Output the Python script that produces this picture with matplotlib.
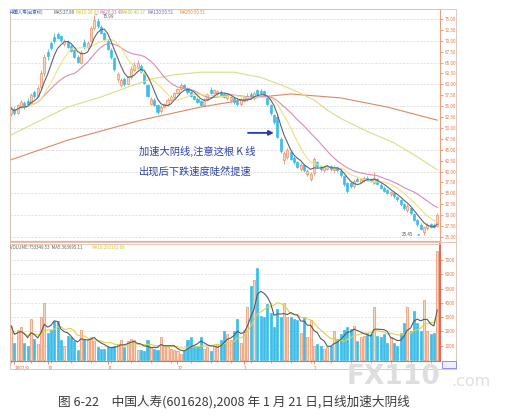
import numpy as np
import pandas as pd
import matplotlib
matplotlib.use('Agg')
import matplotlib.pyplot as plt
from matplotlib.patches import Rectangle
from matplotlib.lines import Line2D

plt.rcParams['font.family'] = ['Noto Sans CJK SC', 'DejaVu Sans']

# ---------------- data ----------------
opens = [53.2,54.3,53.5,55.0,55.8,56.3,55.8,58.2,57.4,59.4,
         62.5,67.5,69.5,70.8,71.5,71.0,69.2,69.8,68.8,67.8,
         66.3,65.0,69.8,68.6,70.0,73.0,74.6,73.2,71.8,70.0,
         68.0,66.0,61.2,59.8,61.2,60.2,61.6,63.4,63.8,64.2,
         62.6,59.8,55.6,56.4,55.2,53.8,54.8,55.3,56.4,57.2,
         58.0,58.9,59.8,59.1,58.2,57.3,56.7,56.2,55.3,56.5,
         58.6,58.0,57.9,58.3,57.8,56.8,56.5,56.8,56.4,55.4,
         56.2,56.6,57.8,56.8,58.6,58.5,58.4,57.0,55.2,53.0,
         52.5,47.5,42.6,43.3,44.6,43.2,42.2,40.6,41.4,39.4,
         38.4,39.6,42.2,41.3,40.3,40.6,41.2,40.3,41.0,40.2,
         39.0,37.4,37.4,36.6,38.4,37.6,38.0,38.6,38.3,37.4,
         38.3,37.0,36.3,35.7,34.8,35.0,34.2,33.4,32.5,31.2,
         31.6,30.2,28.8,27.8,26.2,27.0,27.9,27.8,27.6]
highs = [55.0,54.8,55.6,56.5,56.2,56.8,58.0,58.8,59.8,63.2,
         67.0,68.2,70.0,71.9,72.0,71.4,70.5,70.2,69.2,68.1,
         66.8,67.8,70.5,70.0,73.5,75.99,75.2,73.6,72.1,70.3,
         68.4,66.3,62.9,61.5,61.6,62.0,64.2,65.2,65.5,64.6,
         62.9,60.2,57.2,56.8,55.5,55.2,55.8,56.8,57.6,58.3,
         59.2,60.3,60.2,59.4,58.5,57.6,57.0,56.5,56.8,58.0,
         59.3,59.0,58.8,58.6,58.2,58.0,57.4,57.2,56.8,56.8,
         57.3,58.0,58.3,58.5,59.0,58.9,58.7,57.3,55.5,53.3,
         52.8,47.9,44.8,45.5,45.0,43.6,42.5,41.9,41.7,40.6,
         39.8,43.4,42.5,41.6,41.4,41.5,41.5,41.6,41.3,40.5,
         39.3,37.7,37.8,38.2,38.8,38.6,38.9,38.9,38.6,40.0,
         38.6,37.3,36.6,36.0,35.6,35.3,34.5,33.7,32.8,32.6,
         31.9,30.5,29.1,28.1,27.6,28.2,28.2,28.1,30.4]
lows = [52.8,53.0,53.2,54.6,54.4,55.2,55.5,56.9,57.0,59.0,
        62.0,65.6,67.8,69.5,70.3,69.8,68.8,68.3,67.4,66.0,
        64.8,64.7,68.2,68.2,69.8,72.5,73.0,71.5,70.0,67.8,
        65.8,63.0,60.5,59.5,59.6,59.9,61.2,63.0,63.4,62.5,
        60.0,57.0,55.3,55.0,53.2,53.4,54.5,55.0,56.1,56.9,
        57.7,58.6,58.9,57.9,57.0,56.4,55.7,55.0,55.0,56.2,
        57.8,57.7,57.5,57.2,56.9,56.5,56.0,55.6,55.0,55.1,
        55.9,56.3,56.6,56.4,57.4,57.6,57.2,55.0,53.0,51.0,
        47.6,44.2,41.8,43.0,42.7,41.8,40.8,40.2,40.0,39.0,
        37.8,39.3,40.8,40.2,40.0,40.3,40.2,40.0,39.9,38.8,
        36.8,35.2,36.2,36.3,37.5,37.3,37.7,37.8,37.5,37.1,
        36.9,36.0,35.3,34.9,34.5,34.0,33.3,32.2,31.3,30.8,
        30.2,28.6,27.6,26.6,25.45,26.7,27.1,27.0,27.4]
closes = [54.5,53.4,55.2,56.0,54.8,55.6,57.5,57.3,59.2,62.5,
          66.2,66.4,68.3,69.9,70.6,70.1,70.0,68.6,67.7,66.3,
          65.2,67.4,68.6,69.6,73.0,74.8,73.4,71.9,70.3,68.2,
          66.2,63.5,62.4,61.0,60.0,61.6,63.6,64.4,64.8,62.9,
          60.4,57.4,56.6,55.3,53.7,54.9,55.4,56.4,57.2,58.0,
          58.9,59.8,59.2,58.2,57.3,56.7,56.0,55.3,56.5,57.7,
          58.1,58.7,58.4,57.5,57.2,57.7,57.0,55.9,55.4,56.4,
          57.0,57.4,56.9,58.0,57.8,58.0,57.5,55.4,53.4,51.4,
          48.0,44.8,44.2,44.9,43.0,42.1,41.1,41.5,40.3,40.2,
          39.5,42.8,41.2,40.5,41.0,41.2,40.5,41.1,40.3,39.2,
          37.2,35.6,36.6,37.8,37.9,38.3,38.6,38.0,37.8,38.5,
          37.2,36.3,35.6,35.1,35.3,34.3,33.6,32.5,31.6,32.1,
          30.5,28.9,27.9,26.9,27.2,27.8,27.4,27.3,30.0]
volumes = [2400,1200,2100,2300,1200,1000,2900,1500,1100,3000,
           4000,1900,2100,2700,2700,1400,1000,1700,1600,1300,
           700,2100,1500,1400,1600,1300,900,800,800,900,
           900,1000,1100,1400,900,1300,1500,1400,700,700,
           600,1400,900,800,700,1600,1000,900,800,700,
           600,400,700,1400,1600,1000,1000,1600,800,900,
           600,1000,1100,1400,2000,1800,1400,2000,2900,1200,
           2100,3700,5200,5600,6400,3100,3000,3900,3300,2300,
           3600,3000,4000,3000,3000,2900,2800,1900,3000,1600,
           2800,1000,1100,1000,800,900,1000,2000,1500,1800,
           2100,2300,2200,2400,1300,1600,1700,1900,1800,3700,
           1700,1600,1800,1200,1600,1200,1000,1900,2600,3700,
           2000,3400,2600,2000,4200,2000,1800,1900,7600]

# long moving averages (bar index, value)
ma60_idx = [0, 9, 17, 27, 37, 42, 49, 57, 67, 75, 81, 86, 91, 95, 99, 107, 115, 122, 128]
ma60_val = [48.4, 51.8, 54.8, 57.1, 59.9, 61.2, 62.2, 62.8, 62.8, 61.6, 59.9, 58.3, 56.4, 54.1, 52.2, 49.2, 46.6, 43.4, 40.4]
ma120_idx = [0, 17, 39, 57, 75, 84, 99, 113, 122, 128]
ma120_val = [42.7, 47.2, 51.8, 54.8, 57.1, 57.8, 56.9, 54.8, 53.0, 51.8]

date_idx = [1, 11, 29, 50, 70, 91]
date_lbl = ['2007/9', '10', '11', '12', '1', '2']

price_ticks = [25.0, 27.5, 30.0, 32.5, 35.0, 37.5, 40.0, 42.5, 45.0, 47.5, 50.0,
               52.5, 55.0, 57.5, 60.0, 62.5, 65.0, 67.5, 70.0, 72.5, 75.0]
price_grid = [25, 30, 35, 40, 45, 50, 55, 60, 65, 70, 75]
vol_ticks = [1000, 2000, 3000, 4000, 5000, 6000, 7000]

legend_main = [('中国人寿(前复权)', '#3a55c0'), ('MA5:27.89', '#555a66'), ('MA10:28.63', '#d8c418'),
               ('MA20:33.49', '#d068b0'), ('MA60:40.17', '#b8c040'), ('MA120:50.51', '#6a62c0'),
               ('MA250:50.51', '#e08a30')]
legend_vol = [('VOLUME:753349.53  MA5:363695.11', '#606060'), ('MA10:293163.08', '#d8c418')]

note1 = '加速大阴线,注意这根 K 线'
note2 = '出现后下跌速度陡然提速'
caption = '图 6-22　中国人寿(601628),2008 年 1 月 21 日,日线加速大阴线'

# ---------------- figure ----------------
W, H = 520, 420
fig = plt.figure(figsize=(W / 100, H / 100), dpi=100)
fig.patch.set_facecolor('white')

def fx(px):
    return px / W

def fy(py):
    return 1 - py / H

ax = fig.add_axes([fx(10), fy(241), 430 / W, 232 / H])
axv = fig.add_axes([fx(10), fy(361), 430 / W, 117 / H])

o = np.array(opens); hh = np.array(highs); ll = np.array(lows); c = np.array(closes)
v = np.array(volumes)
idx = np.arange(len(c))
up = c >= o

UP_FILL = '#fbd6bf'
UP_EDGE = '#e8916a'
DN = '#3cbde9'

edge_cols = np.where(up, UP_EDGE, DN)
fill_cols = np.where(up, UP_FILL, DN)

# grid
for g in price_grid:
    ax.axhline(g, color='#d4d4d4', lw=0.5, ls=(0, (3, 2)), zorder=0)

# candles
ax.vlines(idx, ll, hh, colors=edge_cols, lw=0.6, zorder=2)
body_bot = np.minimum(o, c)
body_h = np.maximum(np.abs(c - o), 0.15)
ax.bar(idx, body_h, 0.62, bottom=body_bot, color=fill_cols, edgecolor=edge_cols,
       linewidth=0.5, zorder=3)

# moving averages
s = pd.Series(c)
ma5 = s.rolling(5, min_periods=1).mean()
ma10 = s.rolling(10, min_periods=1).mean()
ma20 = s.rolling(20, min_periods=1).mean()
ax.plot(ma120_idx, ma120_val, color='#dc8866', lw=0.8, zorder=4)
ax.plot(ma60_idx, ma60_val, color='#d8de86', lw=0.8, zorder=4)
ax.plot(idx, ma20, color='#d88cbc', lw=0.8, zorder=4)
ax.plot(idx, ma10, color='#eee27a', lw=0.8, zorder=4)
ax.plot(idx, ma5, color='#5e6672', lw=0.8, zorder=5)

ax.set_xlim(-0.3, 128.83)
ax.set_ylim(24.08, 77.29)
ax.yaxis.tick_right()
ax.set_yticks(price_ticks)
ax.set_yticklabels(['%.2f' % t for t in price_ticks])
ax.tick_params(axis='y', labelsize=3.3, colors='#e07a4a', length=2, width=0.5, pad=1.5)
ax.set_xticks([])
for sp in ['left', 'top']:
    ax.spines[sp].set_color('#d9c2b4')
    ax.spines[sp].set_linewidth(0.6)
ax.spines['right'].set_color('#e8a080')
ax.spines['right'].set_linewidth(0.8)
ax.spines['bottom'].set_color('#e2b0a0')
ax.spines['bottom'].set_linewidth(0.9)

# peak / trough labels
ipk = int(np.argmax(hh))
ax.annotate('%.2f' % hh[ipk], xy=(ipk + 0.3, hh[ipk]), xytext=(ipk + 2.6, hh[ipk] - 0.4),
            fontsize=3.3, color='#555555', va='center', ha='left',
            arrowprops=dict(arrowstyle='-', color='#5c6abf', lw=0.4))
ilo = int(np.argmin(ll))
ax.annotate('%.2f' % ll[ilo], xy=(ilo - 0.3, ll[ilo]), xytext=(ilo - 3.3, ll[ilo] + 0.1),
            fontsize=3.3, color='#555555', va='center', ha='right',
            arrowprops=dict(arrowstyle='->', color='#5c6abf', lw=0.4, mutation_scale=3))

# annotation text and arrow
ax.text(0.300, 0.384, note1, transform=ax.transAxes, fontsize=7.4, color='#2f43a6',
        ha='left', va='center')
ax.text(0.300, 0.302, note2, transform=ax.transAxes, fontsize=7.4, color='#2f43a6',
        ha='left', va='center')
ax.annotate('', xy=(0.620, 0.466), xytext=(0.547, 0.466), xycoords='axes fraction',
            textcoords='axes fraction',
            arrowprops=dict(arrowstyle='-|>', color='#2438b8', lw=1.3, mutation_scale=7))

# ---------------- volume panel ----------------
for g in vol_ticks:
    axv.axhline(g, color='#d8d8d8', lw=0.5, ls=(0, (3, 2)), zorder=0)
vcols = np.where(up, UP_FILL, DN)
vedges = np.where(up, UP_EDGE, DN)
axv.bar(idx, v, 0.62, color=vcols, edgecolor=vedges, linewidth=0.5, zorder=2)
vs = pd.Series(v.astype(float))
axv.plot(idx, vs.rolling(10, min_periods=1).mean(), color='#e6d040', lw=0.8, zorder=3)
axv.plot(idx, vs.rolling(5, min_periods=1).mean(), color='#545c66', lw=0.8, zorder=4)

axv.set_xlim(-0.3, 128.83)
axv.set_ylim(-70, 8112)
axv.yaxis.tick_right()
axv.set_yticks(vol_ticks)
axv.set_yticklabels([str(t) for t in vol_ticks])
axv.tick_params(axis='y', labelsize=3.3, colors='#e07a4a', length=2, width=0.5, pad=1.5)
axv.set_xticks(date_idx)
axv.set_xticklabels(date_lbl)
axv.set_xticks(np.arange(0, 129, 6), minor=True)
axv.tick_params(axis='x', which='major', labelsize=3.3, colors='#d0603a', length=2.5,
                width=0.5, pad=0.8)
axv.tick_params(axis='x', which='minor', length=1.5, width=0.4, color='#d0603a')
for lab in axv.get_xticklabels():
    lab.set_horizontalalignment('left')
for sp in ['left', 'top']:
    axv.spines[sp].set_color('#d9c2b4')
    axv.spines[sp].set_linewidth(0.6)
axv.spines['bottom'].set_color('#e07050')
axv.spines['bottom'].set_linewidth(0.8)
axv.spines['right'].set_color('#e03a20')
axv.spines['right'].set_linewidth(1.1)

# legends
xpos = [10, 53, 76, 99, 122, 148, 180]
for (t, col), xp in zip(legend_main, xpos):
    fig.text(fx(xp), fy(12.5), t, fontsize=3.2, color=col, ha='left', va='center')
fig.text(fx(10), fy(247.5), legend_vol[0][0], fontsize=3.2, color=legend_vol[0][1],
         ha='left', va='center')
fig.text(fx(91), fy(247.5), legend_vol[1][0], fontsize=3.2, color=legend_vol[1][1],
         ha='left', va='center')

# outer frame
fig.add_artist(Rectangle((fx(10), fy(369)), (456 - 10) / W, (369 - 9) / H,
                         transform=fig.transFigure, fill=False, edgecolor='#d8c0b4', lw=0.6))
fig.add_artist(Line2D([fx(10), fx(456)], [fy(242.5), fy(242.5)], transform=fig.transFigure,
                      color='#e6b8a8', lw=0.6))
fig.add_artist(Rectangle((fx(442), fy(368)), 14 / W, 7 / H, transform=fig.transFigure,
                         fill=True, facecolor='#eef0ff', edgecolor='#6a6adc', lw=0.5))

# watermark
fig.text(fx(347), fy(377), 'FX110', fontsize=19, fontweight='bold', color='#dedede',
         ha='left', va='center', family=['DejaVu Sans'], zorder=10)
fig.text(fx(451), fy(381), '.com', fontsize=11.5, color='#e0e0e0', ha='left', va='center',
         family=['DejaVu Sans'], zorder=10)

# caption
fig.text(fx(58), fy(402), caption, fontsize=9.1, color='#3c3c3c', ha='left', va='center')

fig.savefig('out.png', dpi=100, facecolor='white')
